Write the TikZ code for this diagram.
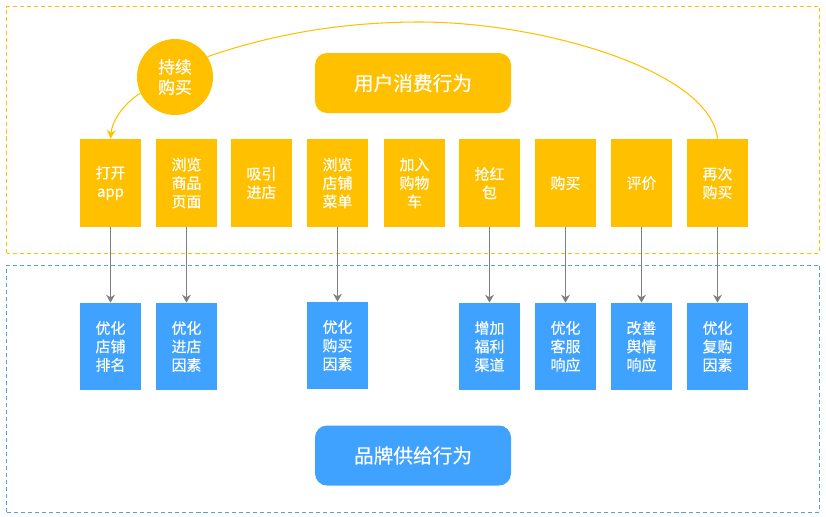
\documentclass[tikz,border=0pt]{standalone}
\usepackage{fontspec}
\setmainfont[FakeBold=0.35]{Noto Sans CJK SC}
\usetikzlibrary{arrows.meta}
\definecolor{behavyellow}{HTML}{FFC000}
\definecolor{supplyblue}{HTML}{3FA2FF}
\definecolor{frameblue}{HTML}{4FA6D6}
\definecolor{linkgray}{HTML}{7F7F7F}
\tikzset{
  stepbox/.style={rectangle, inner sep=0, text=white, align=center, minimum width=1.22cm,
    font=\fontsize{8.5}{10.5}\selectfont},
  userbox/.style={stepbox, fill=behavyellow, minimum height=1.76cm},
  brandbox/.style={stepbox, fill=supplyblue, minimum height=1.74cm},
  titlebox/.style={rectangle, rounded corners=.24cm, inner sep=0, text=white, minimum width=3.92cm,
    minimum height=1.2cm, font=\fontsize{11.2}{13}\selectfont},
  frame/.style={line width=.5pt, dash pattern=on 2.3pt off 1.7pt},
  loopline/.style={behavyellow, line width=.6pt},
  linkline/.style={linkgray, line width=.7pt, -{Stealth[length=4.5pt,width=5pt]}}
}
\begin{document}
\begin{tikzpicture}
      \useasboundingbox (0,0) rectangle (16.52,10.32);
      % Frames
      \draw[frame, behavyellow] (.13,5.26) rectangle (16.39,10.19);
      \draw[frame, frameblue] (.13,.08) rectangle (16.39,5.02);
      % Titles
      \node[titlebox, fill=behavyellow] (usertitle) at (8.26,8.66) {用户消费行为};
      \node[titlebox, fill=supplyblue] (brandtitle) at (8.26,1.21) {品牌供给行为};
      % Circle
      \node[circle, fill=behavyellow, inner sep=0, minimum size=1.52cm, text=white, align=center,
        font=\fontsize{9.6}{11.5}\selectfont] (again) at (3.5,8.78) {持续\\购买};
      % User row
      \node[userbox] (open) at (2.21,6.66) {打开\\app};
      \node[userbox] (goods) at (3.73,6.66) {浏览\\商品\\页面};
      \node[userbox] (enter) at (5.23,6.66) {吸引\\进店};
      \node[userbox] (menu) at (6.75,6.66) {浏览\\店铺\\菜单};
      \node[userbox] (cart) at (8.29,6.66) {加入\\购物\\车};
      \node[userbox] (packet) at (9.79,6.66) {抢红\\包};
      \node[userbox] (buy) at (11.31,6.66) {购买};
      \node[userbox] (review) at (12.83,6.66) {评价};
      \node[userbox] (rebuy) at (14.35,6.66) {再次\\购买};
      % Brand row
      \node[brandbox] (rank) at (2.21,3.39) {优化\\店铺\\排名};
      \node[brandbox] (factor) at (3.73,3.39) {优化\\进店\\因素};
      \node[brandbox] (purchase) at (6.75,3.41) {优化\\购买\\因素};
      \node[brandbox] (welfare) at (9.79,3.39) {增加\\福利\\渠道};
      \node[brandbox] (service) at (11.31,3.39) {优化\\客服\\响应};
      \node[brandbox] (opinion) at (12.83,3.39) {改善\\舆情\\响应};
      \node[brandbox] (repeat) at (14.35,3.39) {优化\\复购\\因素};
      % Loop back
      \coordinate (peak) at (8.4,9.88);
      \draw[loopline] (rebuy.north) .. controls (14.2,8.92) and (10.8,9.88) .. (peak)
        .. controls (6.8,9.88) and (5.4,9.62) .. (again.32);
      \draw[loopline, -{Stealth[length=5pt,width=5pt]}] (again.205) .. controls (2.44,8.22) and (2.24,7.88) .. (open.north);
      % Links
      \draw[linkline] (open) -- (rank);
      \draw[linkline] (goods) -- (factor);
      \draw[linkline] (menu) -- (purchase);
      \draw[linkline] (packet) -- (welfare);
      \draw[linkline] (buy) -- (service);
      \draw[linkline] (review) -- (opinion);
      \draw[linkline] (rebuy) -- (repeat);
    \end{tikzpicture}
\end{document}
